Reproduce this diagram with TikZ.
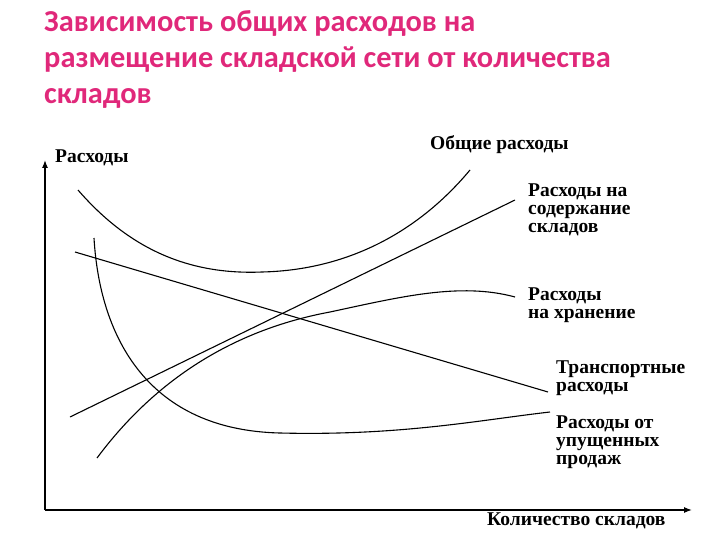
\documentclass[tikz,border=0pt]{standalone}
\usepackage{fontspec}
\setmainfont{Liberation Serif}
\newfontfamily\titlefont{Carlito}
\usetikzlibrary{arrows.meta}
\definecolor{ttl}{HTML}{E0287A}
\begin{document}
\begin{tikzpicture}[x=1pt,y=-1pt,
  crv/.style={line width=1.1pt,black},
  lbl/.style={anchor=north west,font=\bfseries\fontsize{19.5}{18}\selectfont,align=left,inner sep=0pt},
  ttlst/.style={anchor=north west,inner sep=0pt,font=\titlefont\bfseries\fontsize{30.4}{36}\selectfont,text=ttl,align=left}]
\useasboundingbox (0,0) rectangle (720,540);
\node[ttlst] (title) at (44,10) {Зависимость общих расходов на\\размещение складской сети от количества\\складов};
\coordinate (o) at (45,510);
\coordinate (ytop) at (45,160);
\coordinate (xend) at (692,510);
\draw[line width=1.2pt,-{Latex[length=8pt,width=6pt]}] (o) -- (ytop);
\draw[line width=1.2pt,-{Latex[length=8pt,width=6pt]}] (o) -- (xend);
\node[lbl] (ylab) at (55,150) {Расходы};
\node[lbl] (xlab) at (487,513) {Количество складов};
% total
\draw[crv] (78,190) .. controls (130,250) and (190,275) .. (262,272) .. controls (350,270) and (420,230) .. (470,170);
\node[lbl] (l1) at (430,135) {Общие расходы};
% warehouse maintenance
\draw[crv] (70,417) -- (515,200);
\node[lbl] (l2) at (528,184) {Расходы на\\содержание\\складов};
% storage
\draw[crv] (97,458) .. controls (170,360) and (260,325) .. (330,312) .. controls (400,297) and (460,282) .. (515,297);
\node[lbl] (l3) at (528,288) {Расходы\\на хранение};
% transport
\draw[crv] (75,252) -- (548,392);
\node[lbl] (l4) at (556,361) {Транспортные\\расходы};
% lost sales
\draw[crv] (94,238) .. controls (100,340) and (150,430) .. (280,433) .. controls (400,436) and (480,420) .. (550,412);
\node[lbl] (l5) at (556,416) {Расходы от\\упущенных\\продаж};
\end{tikzpicture}
\end{document}
